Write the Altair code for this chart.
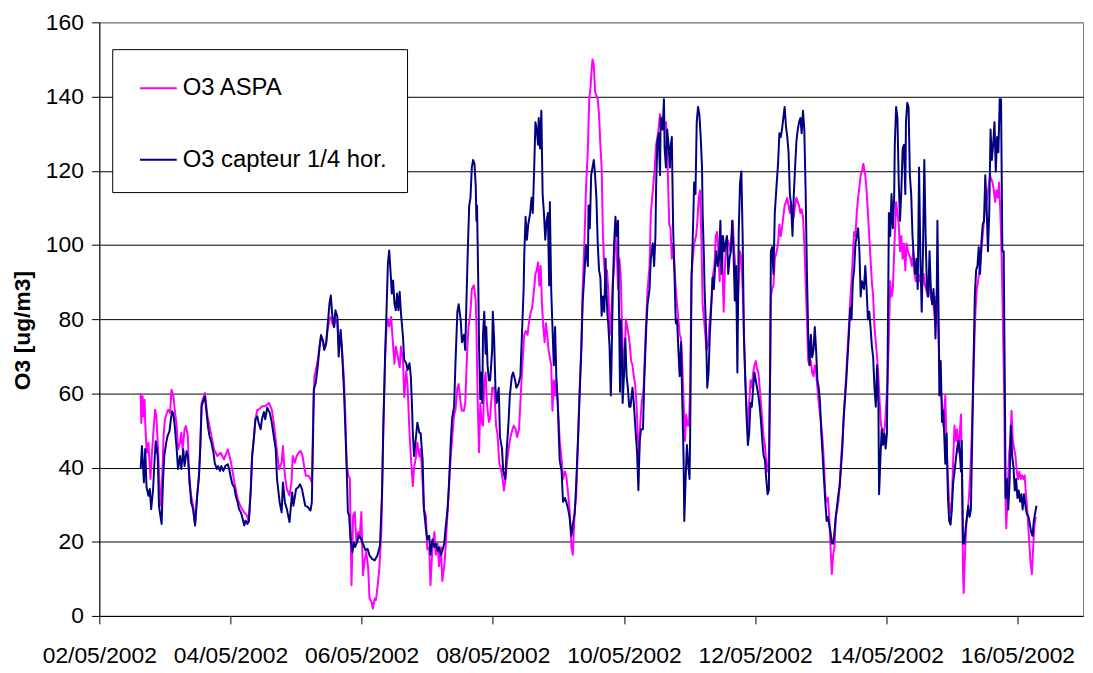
import altair as alt
import pandas as pd
import numpy as np

# ---- data: time in days since 02/05/2002 00:00, O3 in ug/m3 ----
series_names = ["O3 ASPA", "O3 capteur 1/4 hor."]
series_colors = ["#FF00FF", "#000080"]
tick_dates = ["2002-05-02", "2002-05-04", "2002-05-06", "2002-05-08",
              "2002-05-10", "2002-05-12", "2002-05-14", "2002-05-16"]
y_ticks = [0, 20, 40, 60, 80, 100, 120, 140, 160]

aspa_t = [0.63, 0.64, 0.66, 0.67, 0.69, 0.70, 0.72, 0.73, 0.75, 0.76, 0.78, 0.80, 0.82, 0.85, 0.87, 0.90,
          0.92, 0.94, 0.96, 0.98, 1.00, 1.03, 1.05, 1.08, 1.10, 1.13, 1.15, 1.18, 1.20, 1.23, 1.25, 1.27,
          1.30, 1.32, 1.35, 1.37, 1.40, 1.43, 1.46, 1.49, 1.52, 1.54, 1.56, 1.61, 1.65, 1.70, 1.75, 1.80,
          1.85, 1.90, 1.96, 2.01, 2.06, 2.11, 2.16, 2.21, 2.25, 2.28, 2.31, 2.33, 2.36, 2.38, 2.41,
          2.43, 2.48, 2.53, 2.59, 2.63, 2.66, 2.70, 2.74, 2.78, 2.80, 2.83, 2.86, 2.90, 2.93, 2.95, 2.98,
          3.01, 3.04, 3.07, 3.10, 3.13, 3.15, 3.19, 3.22, 3.24, 3.26, 3.28, 3.30, 3.33, 3.36, 3.38, 3.41,
          3.43, 3.46, 3.48, 3.51, 3.53, 3.55, 3.58, 3.60, 3.63, 3.65, 3.68, 3.70, 3.73, 3.75, 3.77, 3.795,
          3.82, 3.845, 3.87, 3.895, 3.92, 3.946, 3.97, 3.996, 4.02, 4.05, 4.07, 4.10, 4.12, 4.15, 4.17,
          4.20, 4.22, 4.25, 4.27, 4.30, 4.32, 4.33, 4.36, 4.38, 4.40, 4.42, 4.45, 4.47, 4.50, 4.52, 4.55,
          4.58, 4.60, 4.63, 4.65, 4.68, 4.70, 4.73, 4.75, 4.78, 4.80, 4.83, 4.85, 4.88, 4.90, 4.93, 4.95,
          4.98, 5.00, 5.03, 5.05, 5.08, 5.11, 5.13, 5.16, 5.18, 5.21, 5.23, 5.26, 5.28, 5.31, 5.36, 5.41,
          5.43, 5.46, 5.48, 5.51, 5.53, 5.56, 5.58, 5.61, 5.63, 5.66, 5.68, 5.71, 5.74, 5.75, 5.77, 5.79,
          5.81, 5.83, 5.85, 5.87, 5.89, 5.91, 5.94, 5.96, 5.99, 6.02, 6.05, 6.07, 6.10, 6.12, 6.15, 6.17,
          6.20, 6.22, 6.25, 6.27, 6.30, 6.32, 6.35, 6.37, 6.40, 6.42, 6.45, 6.48, 6.50, 6.53, 6.55, 6.58,
          6.60, 6.63, 6.65, 6.67, 6.69, 6.71, 6.73, 6.75, 6.77, 6.79, 6.81, 6.83, 6.85, 6.87, 6.89, 6.91,
          6.93, 6.95, 6.97, 6.99, 7.02, 7.05, 7.07, 7.10, 7.12, 7.15, 7.17, 7.20, 7.22, 7.25, 7.27, 7.30,
          7.32, 7.35, 7.37, 7.40, 7.42, 7.45, 7.47, 7.49, 7.50, 7.52, 7.54, 7.56, 7.58, 7.60, 7.62, 7.64,
          7.66, 7.68, 7.70, 7.72, 7.74, 7.76, 7.79, 7.81, 7.83, 7.85, 7.87, 7.89, 7.91, 7.93, 7.95, 7.97,
          7.99, 8.01, 8.03, 8.05, 8.07, 8.09, 8.11, 8.13, 8.15, 8.17, 8.19, 8.21, 8.23, 8.25, 8.27, 8.30,
          8.33, 8.36, 8.39, 8.41, 8.44, 8.47, 8.49, 8.52, 8.55, 8.58, 8.61, 8.64, 8.67, 8.69, 8.71, 8.73,
          8.75, 8.77, 8.79, 8.81, 8.83, 8.85, 8.87, 8.89, 8.91, 8.93, 8.95, 8.97, 8.99, 9.01, 9.03, 9.07,
          9.10, 9.12, 9.14, 9.16, 9.18, 9.20, 9.22, 9.24, 9.26, 9.28, 9.30, 9.32, 9.34, 9.36, 9.38, 9.40,
          9.42, 9.44, 9.46, 9.48, 9.50, 9.52, 9.54, 9.56, 9.58, 9.60, 9.62, 9.64, 9.66, 9.68, 9.69, 9.71,
          9.73, 9.75, 9.77, 9.79, 9.81, 9.83, 9.85, 9.87, 9.89, 9.91, 9.93, 9.95, 9.97, 9.99, 10.01, 10.03,
          10.05, 10.07, 10.09, 10.11, 10.13, 10.15, 10.17, 10.19, 10.21, 10.23, 10.24, 10.26, 10.28, 10.30,
          10.33, 10.35, 10.37, 10.39, 10.41, 10.43, 10.45, 10.47, 10.49, 10.51, 10.53, 10.55, 10.57, 10.59,
          10.61, 10.63, 10.65, 10.67, 10.69, 10.71, 10.73, 10.75, 10.77, 10.79, 10.81, 10.83, 10.85, 10.87,
          10.89, 10.91, 10.93, 10.95, 10.97, 10.99, 11.01, 11.03, 11.05, 11.07, 11.09, 11.11, 11.13, 11.15,
          11.17, 11.19, 11.21, 11.23, 11.25, 11.27, 11.29, 11.31, 11.33, 11.35, 11.37, 11.39, 11.41, 11.43,
          11.45, 11.47, 11.49, 11.51, 11.53, 11.55, 11.57, 11.59, 11.61, 11.63, 11.65, 11.68, 11.70, 11.72,
          11.74, 11.76, 11.78, 11.80, 11.82, 11.84, 11.86, 11.88, 11.90, 11.92, 11.94, 11.96, 11.98, 12.00,
          12.02, 12.04, 12.06, 12.08, 12.10, 12.13, 12.15, 12.17, 12.19, 12.21, 12.23, 12.25, 12.27, 12.29,
          12.31, 12.33, 12.35, 12.37, 12.39, 12.41, 12.43, 12.45, 12.47, 12.49, 12.51, 12.53, 12.55, 12.57,
          12.59, 12.61, 12.63, 12.65, 12.67, 12.69, 12.71, 12.73, 12.75, 12.76, 12.79, 12.81, 12.83, 12.85,
          12.87, 12.90, 12.92, 12.94, 12.96, 12.98, 13.00, 13.02, 13.04, 13.06, 13.08, 13.10, 13.12, 13.14,
          13.15, 13.17, 13.18, 13.20, 13.22, 13.24, 13.26, 13.28, 13.30, 13.32, 13.34, 13.36, 13.38, 13.40,
          13.42, 13.44, 13.46, 13.48, 13.50, 13.52, 13.54, 13.56, 13.58, 13.60, 13.62, 13.64, 13.66, 13.68,
          13.70, 13.72, 13.74, 13.76, 13.78, 13.80, 13.81, 13.83, 13.85, 13.87, 13.89, 13.91, 13.93, 13.95,
          13.97, 13.99, 14.01, 14.03, 14.05, 14.07, 14.09, 14.11, 14.13, 14.15, 14.17, 14.20, 14.22, 14.24,
          14.26, 14.28]
aspa_v = [60, 52, 59.2, 53.8, 58.3, 52, 44.9, 44, 46.7, 43.1, 36.9, 43.1, 48.5, 55.6, 53.8, 43.1,
          34.2, 29.7, 37.8, 48.5, 52.9, 54.7, 55.6, 54.7, 61, 59.2, 55.6, 51.2, 44.9, 46.7, 49.4, 44.9,
          50.3, 51.2, 48.5, 36, 32.4, 29.7, 24.4, 32, 38, 46, 57.4, 60.1, 53.8, 49.4, 44.9, 43.1,
          44, 42.2, 44.9, 41.3, 36, 31.5, 29.3, 27.9, 27.1, 25.3, 34, 43, 48.5, 53, 55.6,
          55.6, 56.5, 56.5, 57.4, 55.6, 52.1, 45.8, 39.6, 41.3, 45.8, 37.8, 34.2, 32.4, 36, 43.1, 41.3,
          43.1, 44, 44.5, 43.1, 39.6, 37.8, 37.8, 36.9, 36, 52.1, 64.6, 66, 69, 73, 75, 74,
          72, 74, 77, 80, 80.6, 79, 77.9, 80, 79, 73, 76, 72, 64, 55, 41, 38,
          37, 8.3, 27, 28, 20, 22.6, 21, 28, 11, 15.4, 17.2, 12.8, 4.7, 3.8, 2,
          4.7, 4.3, 9.2, 12.8, 22.6, 40, 50, 70, 78, 80, 78, 80.6, 75.3, 68, 72.6, 70,
          67, 72.6, 69, 59, 66, 62, 49.4, 43, 35, 40, 43, 46.7, 43, 45, 36, 28.8,
          27, 18, 18.5, 8.3, 18.5, 22.6, 16.5, 19.5, 13.4, 18.5, 9.4, 13.4, 18.5, 27.7, 43.1, 54.3,
          55.3, 61.5, 62.5, 57.4, 55.3, 55.3, 57.4, 71.7, 77.9, 82, 88.1, 89.1, 85, 77.9, 57.4, 44.1,
          57.4, 52.3, 51.3, 62.5, 65.6, 57.4, 52.3, 53.3, 61.5, 61.5, 51.3, 49.2, 41, 40, 36.9, 33.8,
          37.9, 42, 46.1, 48.2, 50.3, 51.3, 50.3, 48.2, 50.3, 57.4, 67.6, 75.8, 76.8, 75.8, 78.9, 82,
          83, 88.1, 92.2, 93.2, 95.3, 89.1, 94.3, 84, 77.9, 73.8, 78.9, 75.8, 71.7, 69.7, 67.6, 55.3,
          63.5, 59.4, 63.5, 57.4, 47.2, 42, 36.9, 38.9, 37.9, 32.8, 28.7, 18.5, 16.5, 28.7, 32, 47.2,
          58.4, 72.8, 88.1, 102.4, 114.7, 126, 139.3, 142.4, 145.4, 150, 148.5, 141.3, 140.3, 139.3, 135.2, 127,
          120.9, 102.4, 94.3, 90.2, 93.2, 88.1, 75.8, 82, 90.2, 94.3, 102.4, 98.3, 88.1, 96.3, 92.2, 77.9,
          67.6, 69.7, 80, 77.9, 75.8, 72.8, 68.7, 67.6, 64.6, 62.5, 57.4, 49.2, 43.1, 52.3, 57.4, 61.5,
          75.8, 88.1, 94.3, 108.6, 114.7, 120.9, 127, 130.1, 135.2, 133.1, 132.1, 133.1, 118.8, 105.5, 104.5, 96.3,
          100.4, 94.3, 88.1, 84, 80, 75.8, 74.8, 67.6, 57.4, 47.2, 54.3, 51.3, 51.3, 61.5, 92.2, 100.4,
          102.4, 106.5, 112.7, 114.7, 102.4, 84, 80, 75.8, 71.7, 72.8, 77.9, 82, 86.1, 92.2, 94.3, 102.4,
          103.5, 98.3, 90.2, 102.4, 96.3, 82, 94.3, 100.4, 101.4, 100.4, 98.3, 101.4, 106.5, 98.3, 96.3, 88.1,
          82, 90.2, 98.3, 96.3, 88.1, 75.8, 63.5, 56.4, 50.3, 57.4, 63.5, 61.5, 65.6, 67.6, 68.7, 66.6,
          65.6, 61.5, 57.4, 52.3, 48.2, 46.1, 41, 38.9, 43.1, 67.6, 86.1, 88.1, 89.1, 96.3,
          98.3, 100.4, 105.5, 102.4, 104.5, 107.6, 110.6, 111.6, 112.7, 110.6, 108.6, 111.6, 106.5, 107.6,
          110.6, 112.7, 111.6, 110.6, 108.6, 109.6, 107.6, 100.4, 90.2, 79.9, 68.7, 67.6, 68.7, 65.6,
          64.6, 67.6, 65.6, 61.5, 57.4, 54.3, 51.3, 47.2, 41, 32.8, 30.8, 31.8, 26.7, 18.5,
          11.3, 16.5, 18.5, 26.7, 28.7, 30.8, 35.9, 42, 47.2, 53.3, 59.4, 65.6, 71.7, 77.9,
          85, 90.2, 97.3, 103.5, 102.4, 108.6, 112.7, 115.7, 118.8, 119.8, 121.9, 118.8, 114.7, 108.6,
          102.4, 96.3, 90.2, 86.1, 77.9, 73.8, 69.7, 64.6, 57.4, 51.3, 50.3, 49.2, 51.3, 57.4,
          63.5, 75.8, 90.2, 86.1, 88.1, 102.4, 111.6, 108.6, 105.5, 98.3, 102.4, 96.3, 100.4, 93.2,
          100.4, 98.3, 97.3, 96.3, 94.3, 98.3, 92.2, 90.2, 91.2, 92.2, 90.2, 92.2, 89.1, 92.2,
          89.1, 88.1, 86.1, 90.2, 87.1, 85, 86.1, 82, 78.9, 86.1, 77.9, 67.6, 61.5, 57.4,
          51.3, 59.4, 45.1, 36.9, 30.8, 27.7, 30.8, 42, 51.3, 47.2, 50.3, 44.1, 49.2, 54.3,
          43.1, 12.4, 6.2, 16.5, 24.6, 27.7, 31.8, 37.9, 47.2, 59.4, 71.7, 82, 88.1, 90.2,
          93.2, 96.3, 100.4, 104.5, 108.6, 110.6, 112.7, 115.7, 118.8, 117.8, 116.8, 114.7, 111.6, 114.7,
          112.7, 116.8, 108.6, 96.3, 77.9, 57.4, 36.9, 23.6, 32.8, 43.1, 47.2, 55.3, 47.2, 45.1,
          43.1, 38.9, 36.9, 38.9, 36.9, 37.9, 36.9, 37.9, 32.8, 28.7, 22.6, 14.4, 11.3, 18.5,
          24.6, 26.7]

capt_t = [0.63, 0.65, 0.68, 0.70, 0.72, 0.75, 0.77, 0.79, 0.82, 0.84, 0.86, 0.89, 0.91, 0.93, 0.95, 0.97,
          0.99, 1.02, 1.04, 1.07, 1.09, 1.11, 1.13, 1.15, 1.18, 1.20, 1.23, 1.25, 1.28, 1.30, 1.33, 1.35,
          1.38, 1.40, 1.43, 1.46, 1.49, 1.52, 1.54, 1.56, 1.59, 1.61, 1.63, 1.66, 1.68, 1.71, 1.74, 1.76,
          1.79, 1.81, 1.84, 1.86, 1.89, 1.92, 1.96, 1.98, 2.01, 2.03, 2.06, 2.08, 2.11, 2.13, 2.16, 2.18,
          2.21, 2.23, 2.26, 2.28, 2.31, 2.33, 2.36, 2.38, 2.41, 2.43, 2.46, 2.48, 2.51, 2.53, 2.56, 2.60,
          2.63, 2.66, 2.69, 2.71, 2.75, 2.78, 2.80, 2.83, 2.86, 2.90, 2.94, 2.96, 3.00, 3.03, 3.06, 3.09,
          3.11, 3.14, 3.18, 3.22, 3.24, 3.26, 3.27, 3.30, 3.33, 3.36, 3.38, 3.41, 3.43, 3.46, 3.48, 3.51,
          3.53, 3.55, 3.58, 3.60, 3.63, 3.65, 3.68, 3.70, 3.73, 3.75, 3.77, 3.79, 3.81, 3.83, 3.86, 3.88,
          3.90, 3.93, 3.96, 3.99, 4.03, 4.06, 4.09, 4.12, 4.16, 4.20, 4.24, 4.28, 4.31, 4.33, 4.36, 4.38,
          4.40, 4.42, 4.44, 4.46, 4.48, 4.50, 4.52, 4.54, 4.56, 4.58, 4.60, 4.63, 4.65, 4.68, 4.70, 4.73,
          4.75, 4.77, 4.78, 4.80, 4.83, 4.85, 4.88, 4.90, 4.93, 4.95, 4.98, 5.00, 5.03, 5.05, 5.08, 5.11,
          5.13, 5.16, 5.18, 5.21, 5.23, 5.26, 5.28, 5.31, 5.33, 5.36, 5.38, 5.41, 5.43, 5.46, 5.48, 5.51,
          5.53, 5.56, 5.58, 5.60, 5.62, 5.64, 5.66, 5.68, 5.70, 5.72, 5.74, 5.75, 5.76, 5.78, 5.79, 5.81,
          5.82, 5.84, 5.85, 5.87, 5.89, 5.90, 5.92, 5.94, 5.96, 5.99, 6.00, 6.02, 6.04, 6.06, 6.09, 6.11,
          6.14, 6.16, 6.19, 6.21, 6.24, 6.26, 6.29, 6.31, 6.34, 6.36, 6.39, 6.42, 6.44, 6.47, 6.48, 6.50,
          6.52, 6.54, 6.57, 6.59, 6.61, 6.63, 6.65, 6.67, 6.69, 6.70, 6.72, 6.74, 6.76, 6.78, 6.80, 6.82,
          6.84, 6.86, 6.87, 6.89, 6.91, 6.93, 6.95, 6.97, 6.99, 7.02, 7.05, 7.07, 7.10, 7.12, 7.15, 7.17,
          7.20, 7.22, 7.25, 7.27, 7.30, 7.32, 7.35, 7.37, 7.40, 7.42, 7.45, 7.46, 7.48, 7.50, 7.52, 7.54,
          7.56, 7.58, 7.60, 7.62, 7.64, 7.66, 7.68, 7.70, 7.72, 7.73, 7.75, 7.76, 7.78, 7.80, 7.81, 7.83,
          7.85, 7.87, 7.89, 7.91, 7.92, 7.94, 7.95, 7.97, 7.98, 8.00, 8.02, 8.04, 8.06, 8.08, 8.10, 8.13,
          8.15, 8.18, 8.20, 8.22, 8.24, 8.26, 8.29, 8.31, 8.34, 8.36, 8.39, 8.41, 8.44, 8.46, 8.48, 8.49,
          8.51, 8.53, 8.55, 8.56, 8.58, 8.59, 8.61, 8.62, 8.64, 8.66, 8.68, 8.70, 8.71, 8.73, 8.75, 8.77,
          8.79, 8.81, 8.83, 8.85, 8.87, 8.89, 8.91, 8.92, 8.94, 8.96, 8.98, 9.00, 9.01, 9.03, 9.05, 9.07,
          9.09, 9.11, 9.13, 9.15, 9.17, 9.19, 9.20, 9.22, 9.23, 9.25, 9.27, 9.29, 9.31, 9.33, 9.35, 9.37,
          9.39, 9.41, 9.43, 9.45, 9.47, 9.49, 9.51, 9.53, 9.55, 9.57, 9.59, 9.61, 9.63, 9.65, 9.67, 9.69,
          9.71, 9.73, 9.75, 9.77, 9.79, 9.81, 9.83, 9.85, 9.87, 9.89, 9.91, 9.93, 9.95, 9.97, 9.99, 10.01,
          10.03, 10.05, 10.07, 10.09, 10.11, 10.13, 10.15, 10.17, 10.19, 10.21, 10.23, 10.24, 10.26, 10.28,
          10.30, 10.33, 10.35, 10.37, 10.39, 10.41, 10.43, 10.45, 10.47, 10.49, 10.51, 10.53, 10.55, 10.57,
          10.59, 10.61, 10.63, 10.65, 10.67, 10.69, 10.71, 10.73, 10.75, 10.77, 10.79, 10.81, 10.83, 10.85,
          10.87, 10.89, 10.91, 10.93, 10.95, 10.97, 10.99, 11.01, 11.03, 11.05, 11.07, 11.09, 11.11, 11.13,
          11.15, 11.17, 11.19, 11.21, 11.23, 11.25, 11.27, 11.29, 11.31, 11.33, 11.35, 11.37, 11.39, 11.41,
          11.43, 11.45, 11.47, 11.49, 11.51, 11.53, 11.55, 11.57, 11.59, 11.61, 11.63, 11.66, 11.68, 11.70,
          11.72, 11.74, 11.76, 11.78, 11.80, 11.82, 11.84, 11.86, 11.88, 11.89, 11.91, 11.93, 11.95, 11.97,
          11.99, 12.01, 12.02, 12.04, 12.06, 12.08, 12.10, 12.12, 12.13, 12.15, 12.17, 12.19, 12.21, 12.23,
          12.25, 12.27, 12.29, 12.30, 12.32, 12.34, 12.36, 12.38, 12.40, 12.42, 12.44, 12.46, 12.48, 12.50,
          12.52, 12.54, 12.56, 12.58, 12.60, 12.62, 12.64, 12.66, 12.68, 12.70, 12.72, 12.74, 12.75, 12.77,
          12.78, 12.80, 12.81, 12.83, 12.85, 12.87, 12.90, 12.92, 12.94, 12.96, 12.98, 13.00, 13.02, 13.04,
          13.06, 13.08, 13.10, 13.12, 13.14, 13.15, 13.17, 13.19, 13.21, 13.23, 13.25, 13.27, 13.29, 13.31,
          13.33, 13.35, 13.37, 13.39, 13.41, 13.43, 13.45, 13.47, 13.49, 13.51, 13.53, 13.55, 13.57, 13.59,
          13.61, 13.63, 13.65, 13.67, 13.69, 13.71, 13.73, 13.75, 13.77, 13.79, 13.81, 13.82, 13.84, 13.86,
          13.88, 13.90, 13.92, 13.94, 13.96, 13.98, 14.00, 14.02, 14.04, 14.06, 14.08, 14.10, 14.13, 14.14,
          14.17, 14.19, 14.21, 14.23, 14.25, 14.27, 14.29]
capt_v = [39.6, 45.8, 36, 45, 34.6, 32.4, 34.2, 28.8, 34.2, 41.3, 47.1, 43.1, 29.7, 27.1, 24.8, 36,
          43.1, 46.7, 48.5, 49.8, 52.9, 55.2, 54.3, 51.2, 44.9, 39.6, 43.1, 39.6, 44.9, 40.4, 44.4, 43.1,
          36, 30.6, 28.8, 24.4, 32, 37.8, 45.8, 56.5, 58.3, 59.2, 55.6, 50.7, 48.5, 46.7, 44, 41.3,
          39.6, 40.4, 39.1, 40.4, 39.1, 40.4, 40.9, 39.6, 36.9, 35.5, 34.6, 32.4, 30.6, 28.8, 27.9, 26.6,
          24.4, 25.7, 24.8, 25.7, 34.2, 43.1, 48.5, 52.9, 53.8, 52, 50.3, 53, 55, 53, 56.1, 54.7,
          52.1, 48.5, 44.9, 36.9, 30.6, 27.9, 36, 30.6, 28.8, 25.3, 33.3, 29.7, 34.2, 34.6, 35.5, 34.2,
          32.4, 29.7, 29.3, 28.4, 30.6, 48.5, 61, 62.8, 67.2, 72.6, 75.7, 74.3, 71.7, 73.4, 77.9, 84.2,
          86.4, 81.5, 77.9, 82.4, 80.6, 69.9, 77.1, 71.7, 61, 51.2, 41.3, 27.9, 27.1, 20.8, 17.2, 19.9,
          18.6, 19.9, 21.7, 20.8, 19, 17.7, 18.1, 16.3, 15.4, 15, 16.3, 19, 32.4, 50.3, 71.7, 82.4,
          94.9, 98.5, 93, 86.9, 90.4, 84.2, 82.4, 86.9, 82.4, 87.4, 81.5, 75.3, 69, 68.1, 66.3, 68.1,
          64.6, 55.6, 49.4, 43.1, 48.5, 52.1, 49.4, 49.2, 42, 28.7, 23.6, 20.6, 21.6, 16.5, 20.6, 18.5,
          19.5, 17.5, 18.5, 16.5, 17.5, 19.5, 23.6, 28.7, 34.9, 47.2, 53.3, 56.4, 67.6, 82, 84, 79.9,
          73.8, 75.8, 71.7, 86.1, 99.4, 110.6, 112.7, 120.9, 122.9, 121.9, 115.7, 106.5, 110.6, 88.1, 72.8, 58.4,
          65.6, 57.4, 75.8, 82, 70.7, 77.9, 67.6, 63.5, 63.5, 71.7, 82, 74.8, 61.5, 57.4, 61.5, 48.2,
          45.1, 38.9, 36.9, 44.1, 52.3, 59.4, 64.6, 65.6, 63.5, 61.5, 62.5, 64.6, 73.8, 88.1, 97.3, 107.6,
          101.4, 105.5, 108.6, 112.7, 108.6, 119.8, 133.1, 131.1, 127, 134.2, 126, 136.2, 113.7, 108.6, 101.4, 106.5,
          108.6, 89.1, 111.6, 88.1, 77.9, 67.6, 77.9, 63.5, 57.4, 42, 38.9, 30.8, 31.8, 30.8, 28.7, 26.7,
          21.6, 24.6, 27.7, 35, 48, 58, 71.7, 84.5, 93, 100, 94.3, 110.6, 104.5, 118.8, 120.9, 122.9,
          118.8, 112.7, 100.4, 93.2, 91.2, 80.9, 86.1, 82, 96.3, 88.1, 80.9, 78.9, 72.8, 59.4, 67.6, 88.1,
          100.4, 107.6, 102.4, 106.5, 88.1, 60.4, 79.9, 70.7, 57.4, 64.6, 74.8, 64.6, 61.5, 56.4, 56.4, 61.5,
          57.4, 49.2, 44.1, 33.9, 47.2, 50.3, 50.3, 63.5, 77.9, 84, 88.1, 96.3, 100.4, 94.3, 102.4, 115.7,
          127.9, 130.1, 118.8, 134.2, 133.1, 131.1, 139.3, 126, 120.9, 131.1, 127, 120.9, 126, 129.1, 104.5, 92.2,
          78.9, 79.9, 71.7, 64.6, 73.8, 57.4, 42, 25.6, 36.9, 46.1, 41, 36.9, 49.2, 90.2, 102.4, 116.8,
          113.7, 133.1, 137.2, 135.2, 129.1, 120.9, 108.6, 96.3, 88.1, 77.9, 61.5, 65.6, 75.8, 83, 91.2, 88.1,
          94.3, 98.3, 94.3, 96.3, 106.5, 92.2, 102.4, 98.3, 100.4, 102.4, 92.2, 96.3, 98.3, 106.5, 98.3, 85,
          94.3, 65.6, 103.5, 116.8, 119.8, 102.4, 75, 64, 53.3, 46.1, 49.2, 57.4, 56.4, 61.5, 65.6, 63.5,
          61.5, 59.4, 56.4, 52.3, 47.2, 43.1, 42, 36.9, 32.8, 33.9, 67.6, 98.3, 99.4, 92.2,
          108.6, 116.8, 121.9, 130.1, 129.1, 131.1, 134.2, 137.2, 132.1, 129.1, 125, 113.7, 110.6, 102.4,
          113.7, 120.9, 127.9, 131.1, 133.1, 134.2, 130.1, 136.2, 131.1, 114.7, 92.2, 75.8, 67.6, 75.8,
          69.7, 71.7, 77.9, 71.7, 63.5, 61.5, 57.4, 49.2, 43.1, 36.9, 30.8, 25.6, 26.7, 24.6,
          22.6, 19.5, 19.5, 22.6, 26.7, 29.7, 32.8, 34.9, 40, 45.1, 53.3, 58.4, 63.5, 69.7,
          75.8, 83, 79.9, 90.2, 93.2, 100.4, 102.4, 104.5, 98.3, 86.1, 90.2, 88.1, 94.3, 88.1,
          79.9, 82, 77.9, 72.8, 69.7, 61.5, 56.4, 67.6, 57.4, 32.8, 42, 50.3, 46.1, 49.2,
          45.1, 49.2, 67.6, 108.6, 102.4, 113.7, 104.5, 112.7, 127, 137.2, 134.2, 116.8, 106.5, 114.7,
          126, 127, 113.7, 133.1, 138.3, 137.2, 118.8, 113.7, 102.4, 96.3, 92.2, 96.3, 88.1, 120.9,
          96.3, 82, 98.3, 122.9, 102.4, 88.1, 86.1, 98.3, 88.1, 84, 88.1, 82, 74.8, 88.1,
          106.5, 77.9, 59.4, 68.7, 52.3, 55.3, 41, 49.2, 31.8, 25.6, 24.6, 28.7, 35.9, 38.9,
          42, 45.1, 47.2, 44.1, 38.9, 47.2, 19.5, 19.5, 23.6, 26.7, 29.7, 26.7, 28.7, 47.2,
          67.6, 86.1, 93.2, 94.3, 99.4, 92.2, 100.4, 105.5, 106.5, 118.8, 110.6, 98.3, 108.6, 131.1,
          122.9, 127, 133.1, 119.8, 129.1, 125, 139.3, 139.3, 98.3, 98.3, 57.4, 31.8, 36.9, 28.7,
          35.9, 51.3, 43.1, 40, 33.8, 36.9, 31.8, 33.8, 30.8, 32.8, 28.7, 32.8, 28.7, 27.7,
          26.7, 24.6, 22.6, 21.6, 25.6, 27.7, 29.7]

FONT = "Liberation Sans, Arial, sans-serif"
start = pd.Timestamp("2002-05-02")


def frame(t, v, name):
    minutes = np.round(np.array(t) * 24 * 60)
    return pd.DataFrame({
        "time": start + pd.to_timedelta(minutes, unit="min"),
        "o3": v,
        "series": name,
    })


df_aspa = frame(aspa_t, aspa_v, series_names[0])
df_capt = frame(capt_t, capt_v, series_names[1])

x_scale = alt.Scale(domain=[alt.DateTime(year=2002, month=5, date=2),
                            alt.DateTime(year=2002, month=5, date=17)])
x_axis = alt.Axis(
    values=[alt.DateTime(year=int(d[:4]), month=int(d[5:7]), date=int(d[8:])) for d in tick_dates],
    format="%d/%m/%Y", title=None, grid=False, labelFlush=False, labelOverlap=False,
    tickSize=8, tickColor="#000000", domainColor="#000000",
    labelFont=FONT, labelFontSize=23, labelColor="#000000", labelPadding=21,
)
y_scale = alt.Scale(domain=[0, 160], nice=False)
y_axis = alt.Axis(
    values=y_ticks, grid=True,
    gridColor=alt.condition("datum.value == 160", alt.value("#808080"), alt.value("#000000")),
    gridWidth=1, tickSize=8, tickColor="#000000", domainColor="#000000",
    labelFont=FONT, labelFontSize=23, labelColor="#000000", labelPadding=8,
    title="O3 [ug/m3]", titleFont=FONT, titleFontSize=23, titleFontWeight="bold",
    titleColor="#000000", titleAngle=270, titleX=-77, titleY=310,
    titleAlign="center", titleBaseline="middle",
)
color = alt.Color(
    "series:N",
    scale=alt.Scale(domain=series_names, range=series_colors),
    legend=alt.Legend(
        title=None, orient="none", legendX=13, legendY=27, direction="vertical",
        symbolType="stroke", symbolSize=1369, symbolStrokeWidth=2, symbolOffset=7,
        labelFont=FONT, labelFontSize=24, labelColor="#000000", labelOffset=5,
        labelLimit=400, rowPadding=40, padding=20,
        strokeColor="#000000", fillColor="#FFFFFF",
    ),
)


def line(df):
    return alt.Chart(df).mark_line(strokeWidth=2, strokeJoin="round").encode(
        x=alt.X("time:T", scale=x_scale, axis=x_axis),
        y=alt.Y("o3:Q", scale=y_scale, axis=y_axis),
        color=color,
    )


chart = alt.layer(line(df_aspa), line(df_capt)).properties(
    width=991, height=598,
    autosize=alt.AutoSizeParams(type="none"),
    padding={"left": 92, "top": 12, "right": 2, "bottom": 50},
    background="#FFFFFF",
).configure_view(stroke="#808080", strokeWidth=1)

chart.save("out.html", embed_options={"renderer": "svg", "actions": False})
